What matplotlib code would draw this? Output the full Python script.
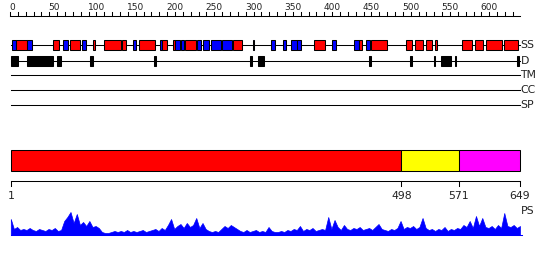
import numpy as np
import matplotlib.pyplot as plt
from matplotlib.patches import Rectangle

plt.rcParams['font.family'] = ['DejaVu Sans']

# #############################################################################
# Data (residue coordinates)
seq_len = 649

# secondary structure: H = helix (red), E = strand (blue)
ss_start = [3, 8, 21, 55, 67, 76, 91, 105, 119, 142, 156, 164, 191, 194, 207,
            210, 218, 223, 238, 245, 256, 270, 284, 309, 332, 347, 357, 365,
            387, 410, 438, 444, 453, 460, 504, 516, 530, 541, 575, 592, 606, 629]
ss_end = [8, 21, 28, 62, 74, 89, 97, 108, 141, 148, 160, 185, 194, 200, 210,
          216, 221, 237, 243, 253, 269, 282, 295, 310.5, 337, 351, 365, 370,
          401, 415, 444, 448, 458, 480, 511, 526, 537, 543, 588, 602, 626, 646]
ss_type = ['E', 'H', 'E', 'H', 'E', 'H', 'E', 'H', 'H', 'H', 'E', 'H', 'E', 'H', 'H',
           'E', 'E', 'H', 'E', 'E', 'E', 'E', 'H', 'E', 'E', 'E', 'E', 'E',
           'H', 'E', 'E', 'H', 'E', 'H', 'H', 'H', 'H', 'H', 'H', 'H', 'H', 'H']

# disordered regions
dis_start = [1, 21, 60, 102, 183, 305, 315, 457, 509, 540, 549, 566, 645]
dis_end = [10, 55, 65, 105, 186, 308, 323, 460, 512, 540.6, 561, 568, 648]

# domains
dom_start = [1, 498, 571]
dom_end = [498, 571, 649]
dom_colors = ['#ff0000', '#ffff00', '#ff00ff']
dom_ticks = [1, 498, 571, 649]

# PS profile, one value every 4 residues
ps_vals = [16, 6, 8, 5,
           6, 5, 7, 5, 4, 6, 5, 4, 6, 5, 7, 4,
           5, 14, 18, 23, 12, 21, 10, 13, 9, 14, 8, 9, 7,
           3, 2, 2,
           3, 4, 3, 4, 3, 5, 3, 4, 3, 4, 5, 3, 4, 5, 6, 4,
           7, 5, 10, 16, 6, 9, 11, 7, 12, 8, 10, 17, 7,
           12, 6, 4, 3, 4, 3,
           6, 9, 7, 10, 8, 6, 4,
           3, 5, 3, 4, 5, 3, 4, 3, 8,
           4, 3, 3, 4, 3, 5, 4,
           6, 5, 9, 4, 6, 5, 7, 4, 5, 6, 5, 18,
           6, 15, 8, 5, 10, 6,
           5, 7, 6, 8, 5, 6, 7, 5, 8,
           11, 6, 5, 4, 6, 5, 7, 14,
           6, 8, 7, 9, 6, 8, 17, 7, 5, 6,
           4, 6, 5, 8, 4, 6, 5, 7, 6, 10, 8,
           14, 7, 19, 9, 17, 8,
           7, 9, 6, 10, 7, 22, 9, 8, 10, 7, 9]
ps_pos = 1 + 4 * np.arange(len(ps_vals))

# #############################################################################
# Plot
fig = plt.figure(figsize=(5.5, 2.6), dpi=100)
ax = fig.add_axes([0, 0, 1, 1])
ax.set_xlim(-12.73, 687.2)
ax.set_ylim(260, 0)
ax.axis('off')

lw = 0.75
txt = '#222222'

# top ruler
ax.plot([0, seq_len], [15.5, 15.5], color='black', lw=lw)
for t in range(0, seq_len, 10):
    ax.plot([t, t], [15.5, 11.5], color='black', lw=lw)
for t in range(0, seq_len, 50):
    ax.text(t - 1, 10.5, str(t), fontsize=6.5, ha='left', va='baseline', color=txt)

# tracks
track_y = {'SS': 45, 'D': 60.5, 'TM': 75, 'CC': 90, 'SP': 105}
for name, y in track_y.items():
    ax.plot([1, seq_len], [y, y], color='black', lw=lw, zorder=1)
    ax.text(seq_len + 0.5, y, name, fontsize=7.8, ha='left', va='center', color=txt)

ss_colors = {'H': '#ff0000', 'E': '#0000ff'}
for s, e, t in zip(ss_start, ss_end, ss_type):
    ax.add_patch(Rectangle((s, 40), e - s, 10, facecolor=ss_colors[t],
                           edgecolor='black', lw=lw, zorder=2))

for s, e in zip(dis_start, dis_end):
    ax.add_patch(Rectangle((s, 55.5), e - s, 10, facecolor='black',
                           edgecolor='black', lw=lw, zorder=2))

# domain bar
for s, e, c in zip(dom_start, dom_end, dom_colors):
    ax.add_patch(Rectangle((s, 150), e - s, 20.5, facecolor=c,
                           edgecolor='black', lw=lw, zorder=2))

# bottom ruler
ax.plot([1, seq_len], [181, 181], color='black', lw=lw)
for t in dom_ticks:
    ax.plot([t, t], [181, 186], color='black', lw=lw)
    ax.text(t, 191, str(t), fontsize=7.8, ha='center', va='top', color=txt)

# PS profile
ax.text(seq_len + 1, 211, 'PS', fontsize=7.8, ha='left', va='center', color=txt)
base = 235
ax.fill_between(ps_pos, base, base - np.array(ps_vals), color='#0000ff',
                lw=0.5, edgecolor='#0000ff')
ax.plot([1, seq_len + 3], [base, base], color='#0000ff', lw=lw)

plt.savefig('out.png', dpi=100)
